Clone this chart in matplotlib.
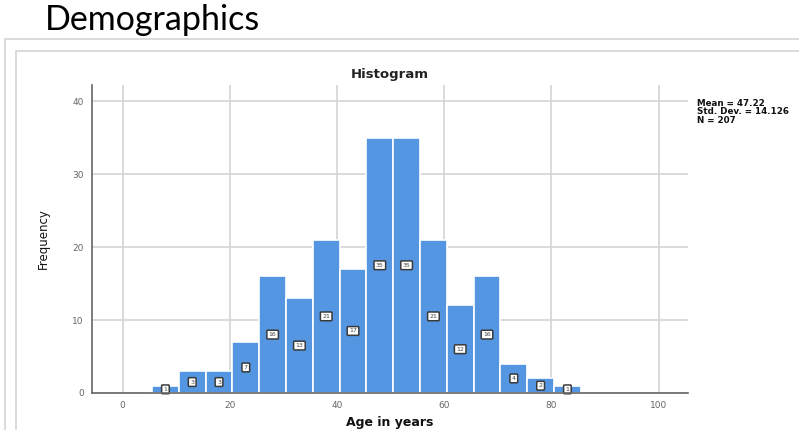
import matplotlib.pyplot as plt
from matplotlib.patches import Rectangle

# histogram bins (age in years) and counts
bin_edges = [5.5, 10.5, 15.5, 20.5, 25.5, 30.5, 35.5, 40.5, 45.5,
             50.5, 55.5, 60.5, 65.5, 70.5, 75.5, 80.5, 85.5]
counts = [1, 3, 3, 7, 16, 13, 21, 17, 35, 35, 21, 12, 16, 4, 2, 1]
x_ticks = [0, 20, 40, 60, 80, 100]
y_ticks = [0, 10, 20, 30, 40]
stats_text = "Mean = 47.22\nStd. Dev. = 14.126\nN = 207"

fig = plt.figure(figsize=(7.99, 4.30), dpi=100)

# slide title and the two frame boxes around the chart
fig.text(45 / 799, 1 - 30 / 430, "Demographics", fontsize=24.5, family="Lato",
         color="black", ha="left", va="baseline")
fig.patches.append(Rectangle((5 / 799, -0.1), 1.0, 1 - 39 / 430 + 0.1,
                             transform=fig.transFigure, fill=False,
                             edgecolor="#d8d8d8", linewidth=1.3))
fig.patches.append(Rectangle((16 / 799, -0.1), 1.0, 1 - 51 / 430 + 0.1,
                             transform=fig.transFigure, fill=False,
                             edgecolor="#d8d8d8", linewidth=1.3))

ax = fig.add_axes([92 / 799, 37 / 430, (688 - 92) / 799, (393 - 85) / 430])

widths = [bin_edges[i + 1] - bin_edges[i] for i in range(len(counts))]
ax.bar(bin_edges[:-1], counts, width=widths, align='edge',
       color='#5596e3', edgecolor='white', linewidth=1.2, zorder=3)

for left, w, c in zip(bin_edges[:-1], widths, counts):
    ax.text(left + w / 2, c / 2, str(c), fontsize=4.5, color='#444444',
            ha='center', va='center', zorder=4,
            bbox=dict(boxstyle='round,pad=0.3,rounding_size=0.15',
                      facecolor='white', edgecolor='#3a3a3a', linewidth=1.1))

ax.set_xlim(-5.7, 105.5)
ax.set_ylim(0, 42.2)
ax.set_xticks(x_ticks)
ax.set_yticks(y_ticks)
ax.tick_params(length=0, labelsize=6.5, colors='#666666', pad=6)
ax.grid(True, color='#d4d4d4', linewidth=1.2, zorder=0)
for side in ['top', 'right']:
    ax.spines[side].set_visible(False)
for side in ['left', 'bottom']:
    ax.spines[side].set_color('#666666')
    ax.spines[side].set_linewidth(1.2)
    ax.spines[side].set_zorder(5)

ax.set_title("Histogram", fontsize=9.5, fontweight='bold', color='#222222', pad=5)
ax.set_xlabel("Age in years", fontsize=9, fontweight='bold', color='#111111', labelpad=4)
ax.set_ylabel("Frequency", fontsize=8.5, color='#111111', labelpad=16)

fig.text(697 / 799, 1 - 99 / 430, stats_text, fontsize=6.3, fontweight='bold',
         color='#111111', ha='left', va='top', linespacing=0.9)

fig.savefig("out.png", dpi=100)
